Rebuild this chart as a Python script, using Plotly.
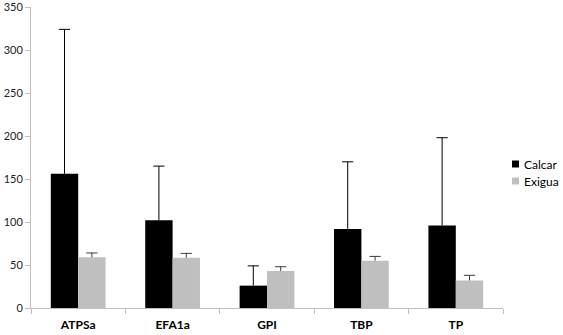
import plotly.graph_objects as go

categories = ["ATPSa", "EFA1a", "GPI", "TBP", "TP"]
series_names = ["Calcar", "Exigua"]
calcar = [156, 102, 26, 92, 96]
calcar_err = [168, 63, 23, 78, 102]
exigua = [59, 58.5, 43, 55, 32]
exigua_err = [5, 5, 5, 5, 6]
colors = ["#000000", "#bfbfbf"]
err_colors = ["#000000", "#3a3a3a"]

fig = go.Figure()
for name, vals, errs, col, ecol in zip(series_names, [calcar, exigua], [calcar_err, exigua_err], colors, err_colors):
    fig.add_trace(go.Bar(
        x=categories, y=vals, name=name, marker=dict(color=col, line=dict(width=0)),
        showlegend=False, offsetgroup=name,
        error_y=dict(type="data", array=errs, symmetric=False, arrayminus=[0]*len(errs),
                     color=ecol, thickness=1, width=0),
    ))
for name, vals, errs, ecol in zip(series_names, [calcar, exigua], [calcar_err, exigua_err], err_colors):
    fig.add_trace(go.Scatter(
        x=categories, y=[v + e for v, e in zip(vals, errs)], mode="markers",
        offsetgroup=name, showlegend=False, hoverinfo="skip",
        marker=dict(symbol="line-ew-open", size=8, color=ecol, line=dict(color=ecol, width=1)),
    ))

W, H = 563, 335
ml, mr, mt, mb = 31, 60, 7, 27
pw = W - ml - mr
ph = H - mt - mb

# manual legend
leg_x_px = 512
leg_y_px = [164, 181]
for name, col, ypx in zip(series_names, colors, leg_y_px):
    x0 = (leg_x_px - ml) / pw
    x1 = (leg_x_px + 7 - ml) / pw
    yc = (H - mb - ypx) / ph
    fig.add_shape(type="rect", xref="paper", yref="paper",
                  x0=x0, x1=x1, y0=yc - 3.5 / ph, y1=yc + 3.5 / ph,
                  fillcolor=col, line=dict(width=0))
    fig.add_annotation(xref="paper", yref="paper", x=(leg_x_px + 10 - ml) / pw, y=yc,
                       text=name, showarrow=False, xanchor="left", yanchor="middle",
                       font=dict(size=12, color="#000000"))

fig.update_layout(
    width=W, height=H,
    margin=dict(l=ml, r=mr, t=mt, b=mb),
    paper_bgcolor="white", plot_bgcolor="white",
    barmode="group", bargap=0.42, bargroupgap=0,
    scattermode="group", scattergap=0.42,
    font=dict(family="Lato, Open Sans, sans-serif", size=11, color="#222222"),
    xaxis=dict(showline=True, linecolor="#bfbfbf", linewidth=1, ticks="outside",
               tickson="boundaries", ticklen=5, tickcolor="#bfbfbf",
               ticklabelstandoff=6, automargin=False,
               tickfont=dict(size=12, color="#000000", family="Lato, Open Sans, sans-serif", weight="bold"),
               showgrid=False, zeroline=False),
    yaxis=dict(range=[0, 350.01], tickvals=[0, 50, 100, 150, 200, 250, 300, 350],
               showline=True, linecolor="#bfbfbf", linewidth=1, automargin=False,
               ticklabeloverflow="allow",
               ticks="outside", ticklen=5, tickcolor="#bfbfbf", showgrid=False,
               zeroline=False, tickfont=dict(size=11, color="#222222")),
)
fig.write_html("out.html")
